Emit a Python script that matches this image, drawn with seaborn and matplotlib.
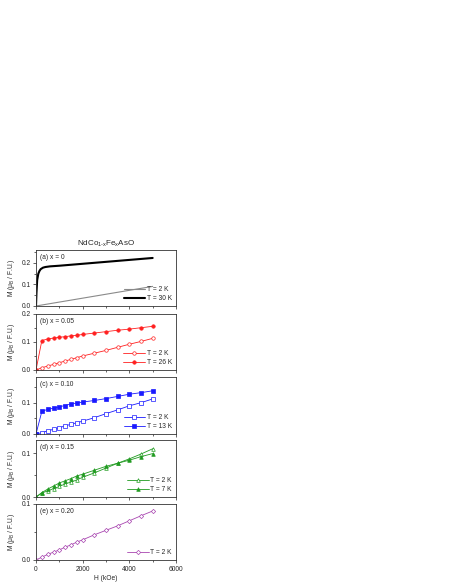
import numpy as np
import pandas as pd
import seaborn as sns
import matplotlib.pyplot as plt
from matplotlib.ticker import MultipleLocator
# --------------------------------------------------------------------------------------------------
# Field values (Oe) of the measured points
H_pts = [0, 250, 500, 750, 1000, 1250, 1500, 1750, 2000, 2500, 3000, 3500, 4000, 4500, 5000]

# (a) x = 0
H_a_2K = [0, 5000]
M_a_2K = [0.0, 0.091]
H_a_30K = [0, 20, 50, 100, 150, 200, 300, 400, 600, 1000, 2000, 3000, 4000, 5000]
M_a_30K = [0.0, 0.06, 0.12, 0.15, 0.163, 0.171, 0.178, 0.181, 0.184, 0.187, 0.196, 0.205, 0.214, 0.223]

# (b) x = 0.05
M_b_2K = [0.0, 0.008, 0.014, 0.020, 0.026, 0.032, 0.038, 0.044, 0.050, 0.060, 0.070, 0.081, 0.092, 0.102, 0.113]
M_b_26K = [0.0, 0.105, 0.111, 0.114, 0.117, 0.119, 0.122, 0.124, 0.127, 0.132, 0.137, 0.142, 0.146, 0.151, 0.156]

# (c) x = 0.10
M_c_2K = [0.0, 0.004, 0.010, 0.015, 0.020, 0.026, 0.031, 0.036, 0.041, 0.052, 0.065, 0.077, 0.090, 0.100, 0.112]
M_c_13K = [0.0, 0.072, 0.079, 0.082, 0.087, 0.091, 0.096, 0.099, 0.102, 0.107, 0.113, 0.120, 0.127, 0.132, 0.138]

# (d) x = 0.15
M_d_2K = [0.0, 0.009, 0.014, 0.019, 0.024, 0.030, 0.034, 0.039, 0.045, 0.055, 0.066, 0.077, 0.087, 0.098, 0.110]
M_d_7K = [0.0, 0.010, 0.018, 0.025, 0.032, 0.037, 0.042, 0.048, 0.052, 0.061, 0.070, 0.077, 0.084, 0.092, 0.099]

# (e) x = 0.20
M_e_2K = [0.0, 0.005, 0.010, 0.014, 0.018, 0.023, 0.027, 0.032, 0.036, 0.045, 0.053, 0.061, 0.070, 0.079, 0.0875]
# --------------------------------------------------------------------------------------------------
sns.set_style("ticks")
plt.rcParams['font.family'] = ['Liberation Sans', 'DejaVu Sans']
plt.rcParams['mathtext.fontset'] = 'custom'
plt.rcParams['mathtext.rm'] = 'Liberation Sans'
plt.rcParams['mathtext.it'] = 'Liberation Sans'

W, Hh = 450, 582
fig = plt.figure(figsize=(W / 100, Hh / 100), dpi=100)

# panel boxes in pixels: (top, bottom)
boxes = [(250, 306), (314, 370), (377, 434), (440, 497), (504, 560)]
x0, x1 = 36, 176
axes = []
for top, bot in boxes:
    ax = fig.add_axes([x0 / W, 1 - bot / Hh, (x1 - x0) / W, (bot - top) / Hh])
    axes.append(ax)

fs = 4.8
ylabel = r'M ($\mu_{\rm B}$ / F.U.)'

# (a)
ax = axes[0]
sns.lineplot(x=H_a_2K, y=M_a_2K, ax=ax, color='#8a8a8a', lw=0.8, label='T = 2 K')
sns.lineplot(x=H_a_30K, y=M_a_30K, ax=ax, color='black', lw=1.5, label='T = 30 K')
ax.set_ylim(0, 0.26)
ax.text(0.03, 0.93, '(a) x = 0', transform=ax.transAxes, fontsize=fs, va='top')
ax.set_title(r'NdCo$_{1\text{-}x}$Fe$_x$AsO', fontsize=5.8, pad=3)

# marker panels
def pair(ax, m_open, m_fill, color, marker, lab_open, lab_fill, ms):
    sns.lineplot(x=H_pts, y=m_open, ax=ax, color=color, lw=0.6, marker=marker, ms=ms,
                 markerfacecolor='white', markeredgecolor=color, mew=0.5, label=lab_open)
    if m_fill is not None:
        sns.lineplot(x=H_pts, y=m_fill, ax=ax, color=color, lw=0.6, marker=marker, ms=ms,
                     markerfacecolor=color, markeredgecolor=color, mew=0.5, label=lab_fill)

pair(axes[1], M_b_2K, M_b_26K, '#ff2020', 'o', 'T = 2 K', 'T = 26 K', 2.5)
axes[1].set_ylim(0, 0.2)
axes[1].text(0.03, 0.93, '(b) x = 0.05', transform=axes[1].transAxes, fontsize=fs, va='top')

pair(axes[2], M_c_2K, M_c_13K, '#1a1aff', 's', 'T = 2 K', 'T = 13 K', 2.3)
axes[2].set_ylim(0, 0.182)
axes[2].text(0.03, 0.93, '(c) x = 0.10', transform=axes[2].transAxes, fontsize=fs, va='top')

pair(axes[3], M_d_2K, M_d_7K, '#1f9a1f', '^', 'T = 2 K', 'T = 7 K', 2.6)
axes[3].set_ylim(0, 0.13)
axes[3].text(0.03, 0.93, '(d) x = 0.15', transform=axes[3].transAxes, fontsize=fs, va='top')

pair(axes[4], M_e_2K, None, '#a845b0', 'D', 'T = 2 K', None, 2.2)
axes[4].set_ylim(0, 0.1)
axes[4].text(0.03, 0.93, '(e) x = 0.20', transform=axes[4].transAxes, fontsize=fs, va='top')

for i, ax in enumerate(axes):
    ax.set_xlim(0, 6000)
    ax.xaxis.set_major_locator(MultipleLocator(2000))
    ax.xaxis.set_minor_locator(MultipleLocator(1000))
    ax.yaxis.set_major_locator(MultipleLocator(0.1))
    ax.yaxis.set_minor_locator(MultipleLocator(0.05))
    ax.tick_params(which='both', direction='out', labelsize=fs, width=0.5, pad=1.5)
    ax.tick_params(which='major', length=2.5)
    ax.tick_params(which='minor', length=1.5)
    ax.yaxis.set_major_formatter(plt.FuncFormatter(lambda v, p: f'{v:.1f}'))
    for s in ax.spines.values():
        s.set_linewidth(0.6)
        s.set_color('#333333')
    ax.set_ylabel(ylabel, fontsize=fs, labelpad=3)
    if i < 4:
        ax.tick_params(labelbottom=False)
        ax.set_xlabel('')
    leg = ax.legend(loc='lower right', fontsize=fs, frameon=False, handlelength=3.2,
                    handletextpad=0.3, labelspacing=0.25, borderaxespad=0.2)

axes[4].set_xlabel('H (kOe)', fontsize=fs, labelpad=1.5)

fig.savefig('out.png', dpi=100)
